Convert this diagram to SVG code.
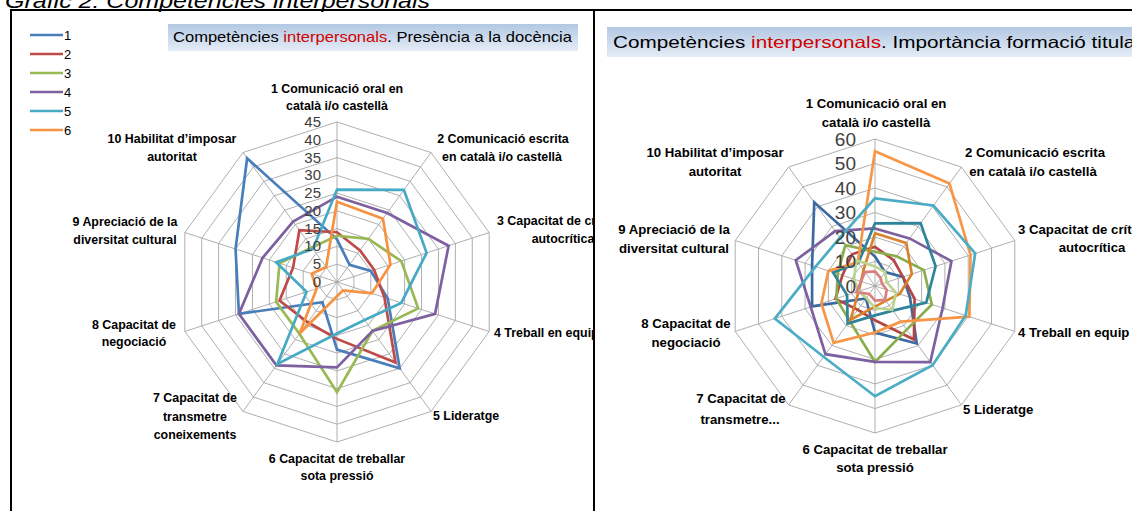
<svg xmlns="http://www.w3.org/2000/svg" xmlns:xlink="http://www.w3.org/1999/xlink" width="1132" height="511" viewBox="0 0 1132 511">
<style>
.t{font-family:"Liberation Sans",Arial,sans-serif;font-weight:bold;fill:#000}
.l{font-size:12.4px;text-anchor:middle}
.r{font-size:13.2px;text-anchor:middle}
.st{text-anchor:start}
.num{font-family:"Liberation Sans",Arial,sans-serif;fill:#404040;text-anchor:end}
.nl{font-size:15px}
.nr{font-size:19px}
.grid{fill:none;stroke:#a6a6a6;stroke-width:0.9}
.s{fill:none;stroke-width:2.7;stroke-linejoin:miter}
.ttl{font-family:"Liberation Sans",Arial,sans-serif;fill:#000}
.red{fill:#d00000}
</style>
<defs>
<polygon id="dec" vector-effect="non-scaling-stroke" points="0,-1 0.5878,-0.809 0.9511,-0.309 0.9511,0.309 0.5878,0.809 0,1 -0.5878,0.809 -0.9511,0.309 -0.9511,-0.309 -0.5878,-0.809"/>
<linearGradient id="tg" x1="0" y1="0" x2="0" y2="1">
<stop offset="0" stop-color="#b3c8e3"/>
<stop offset="1" stop-color="#e4ecf6"/>
</linearGradient>
<clipPath id="clipL"><rect x="11" y="11" width="582" height="500"/></clipPath>
</defs>
<rect width="1132" height="511" fill="#fff"/>
<text x="5" y="8" font-family="Liberation Sans, Arial, sans-serif" font-style="italic" font-size="20" textLength="425" lengthAdjust="spacingAndGlyphs">Gràfic 2: Competències interpersonals</text>
<g id="frame" fill="none" stroke="#000" stroke-width="2">
<line x1="10" y1="10" x2="1132" y2="10"/>
<line x1="11" y1="10" x2="11" y2="511"/>
<line x1="594" y1="10" x2="594" y2="511"/>
</g>

<g id="chartL" clip-path="url(#clipL)">
<g id="titleL">
<rect x="168" y="24" width="410" height="27" fill="url(#tg)"/>
<text class="ttl" x="173" y="42" font-size="15" textLength="399" lengthAdjust="spacingAndGlyphs">Competències <tspan class="red">interpersonals</tspan>. Presència a la docència</text>
</g>
<g id="legendL" stroke-width="2.6">
<line x1="30" y1="35" x2="63" y2="35" stroke="#4A7EBB"/>
<line x1="30" y1="54" x2="63" y2="54" stroke="#BE4B48"/>
<line x1="30" y1="73" x2="63" y2="73" stroke="#98B954"/>
<line x1="30" y1="92" x2="63" y2="92" stroke="#7D60A0"/>
<line x1="30" y1="111" x2="63" y2="111" stroke="#46AAC5"/>
<line x1="30" y1="130" x2="63" y2="130" stroke="#F69240"/>
<g font-family="Liberation Sans, Arial, sans-serif" font-size="13" fill="#000" stroke="none">
<text x="64" y="40">1</text><text x="64" y="59">2</text><text x="64" y="78">3</text><text x="64" y="97">4</text><text x="64" y="116">5</text><text x="64" y="135">6</text>
</g>
</g>
<g id="gridL" class="grid" transform="translate(337 282) scale(3.5556)">
<use href="#dec" transform="scale(5)"/><use href="#dec" transform="scale(10)"/><use href="#dec" transform="scale(15)"/>
<use href="#dec" transform="scale(20)"/><use href="#dec" transform="scale(25)"/><use href="#dec" transform="scale(30)"/>
<use href="#dec" transform="scale(35)"/><use href="#dec" transform="scale(40)"/><use href="#dec" transform="scale(45)"/>
<path vector-effect="non-scaling-stroke" d="M0,0L0,-45M0,0L26.45,-36.41M0,0L42.8,-13.91M0,0L42.8,13.91M0,0L26.45,36.41M0,0L0,45M0,0L-26.45,36.41M0,0L-42.8,13.91M0,0L-42.8,-13.91M0,0L-26.45,-36.41"/>
</g>
<g id="seriesL" transform="translate(337 282) scale(3.5556)">
<polygon class="s" vector-effect="non-scaling-stroke" stroke="#4A7EBB" points="0,-12 3.53,-4.85 9.51,-3.09 14.27,4.64 17.63,24.27 0,19 -4.11,5.66 -27.58,8.96 -28.53,-9.27 -25.28,-34.79"/>
<polygon class="s" vector-effect="non-scaling-stroke" stroke="#BE4B48" points="0,-14 6.47,-8.9 10.46,-3.4 13.32,4.33 16.46,22.65 0,16 -8.23,11.33 -16.17,5.25 -12.36,-4.02 -10.58,-14.56"/>
<polygon class="s" vector-effect="non-scaling-stroke" stroke="#98B954" points="0,-13 8.82,-12.14 18.07,-5.87 22.83,7.42 9.99,13.75 0,31 -10.58,14.56 -17.12,5.56 -16.17,-5.25 -7.05,-9.71"/>
<polygon class="s" vector-effect="non-scaling-stroke" stroke="#7D60A0" points="0,-24 14.11,-19.42 31.39,-10.2 27.58,8.96 9.99,13.75 0,24 -17.05,23.46 -27.58,8.96 -20.92,-6.8 -12.34,-16.99"/>
<polygon class="s" vector-effect="non-scaling-stroke" stroke="#46AAC5" points="0,-26 18.81,-25.89 25.2,-8.19 18.07,5.87 7.76,10.68 0,14.5 -16.75,23.06 -8.56,2.78 -17.12,-5.56 -6.76,-9.3"/>
<polygon class="s" vector-effect="non-scaling-stroke" stroke="#F69240" points="0,-22.6 12.93,-17.8 15.03,-4.88 9.8,3.18 1.7,2.35 0,4 -10.46,14.4 -5.71,1.85 -7.13,-2.32 -3.06,-4.21"/>
</g>
<g id="scaleL" class="num nl">
<text x="321" y="127">45</text><text x="321" y="145">40</text><text x="321" y="163">35</text><text x="321" y="180">30</text><text x="321" y="198">25</text>
<text x="321" y="216">20</text><text x="321" y="234">15</text><text x="321" y="251">10</text><text x="321" y="269">5</text><text x="321" y="287">0</text>
</g>
<g id="labelsL" class="t l">
<text x="337" y="93">1  Comunicació oral en</text><text x="337" y="110">català i/o castellà</text>
<text x="503" y="143">2  Comunicació escrita</text><text x="502" y="161">en català i/o castellà</text>
<text class="st" x="497" y="225">3  Capacitat de crítica i</text><text x="563" y="243">autocrítica</text>
<text class="st" x="494" y="337">4  Treball en equip</text>
<text class="st" x="433" y="420">5  Lideratge</text>
<text x="337" y="463">6  Capacitat de treballar</text><text x="337" y="480">sota pressió</text>
<text x="195" y="402">7  Capacitat de</text><text x="195" y="421">transmetre</text><text x="195" y="439">coneixements</text>
<text x="134" y="329">8  Capacitat de</text><text x="134" y="346">negociació</text>
<text x="125" y="226">9  Apreciació de la</text><text x="125" y="244">diversitat cultural</text>
<text x="172" y="143">10 Habilitat d’imposar</text><text x="172" y="161">autoritat</text>
</g>
</g>

<g id="chartR">
<g id="titleR">
<rect x="607" y="27" width="525" height="30" fill="url(#tg)"/>
<text class="ttl" x="613" y="48" font-size="16.5" textLength="528" lengthAdjust="spacingAndGlyphs">Competències <tspan class="red">interpersonals</tspan>. Importància formació titulat</text>
</g>
<g id="gridR" class="grid" transform="translate(875 286) scale(2.45)">
<use href="#dec" transform="scale(10)"/><use href="#dec" transform="scale(20)"/><use href="#dec" transform="scale(30)"/>
<use href="#dec" transform="scale(40)"/><use href="#dec" transform="scale(50)"/><use href="#dec" transform="scale(60)"/>
<path vector-effect="non-scaling-stroke" d="M0,0L0,-60M0,0L35.27,-48.54M0,0L57.07,-18.54M0,0L57.07,18.54M0,0L35.27,48.54M0,0L0,60M0,0L-35.27,48.54M0,0L-57.07,18.54M0,0L-57.07,-18.54M0,0L-35.27,-48.54"/>
</g>
<g id="seriesR" transform="translate(875 286) scale(2.45)">
<polygon class="s" vector-effect="non-scaling-stroke" stroke="#3C6AA0" points="0,-12 4.11,-5.66 11.41,-3.71 14.27,4.64 17.05,23.46 0,19 -3.7,5.1 -25.68,8.34 -25.68,-8.34 -24.8,-34.14"/>
<polygon class="s" vector-effect="non-scaling-stroke" stroke="#B54643" points="0,-16 7.64,-10.52 11.41,-3.71 16.17,5.25 15.87,21.84 0,14 -7.05,9.71 -16.17,5.25 -13.32,-4.33 -9.4,-12.94"/>
<polygon class="s" vector-effect="non-scaling-stroke" stroke="#8AAE4C" points="0,-14 8.82,-12.14 19.97,-6.49 23.21,7.54 12.93,17.8 0,31 -10.35,14.24 -15.79,5.13 -15.22,-4.94 -12.11,-16.67"/>
<polygon class="s" vector-effect="non-scaling-stroke" stroke="#7D60A0" points="0,-23.5 14.11,-19.42 31.2,-10.14 27.58,8.96 22.57,31.07 0,31 -20.22,27.83 -26.25,8.53 -32.34,-10.51 -16.28,-22.41"/>
<polygon class="s" vector-effect="non-scaling-stroke" stroke="#2F8499" points="0,-25.6 18.63,-25.65 24.73,-8.03 20.92,6.8 7.29,10.03 0,12 -11.17,15.37 -11.41,3.71 -17.12,-5.56 -6.82,-9.38"/>
<polygon class="s" vector-effect="non-scaling-stroke" stroke="#F79646" points="0,-55 30.39,-41.83 38.99,-12.67 38.52,12.51 10.58,14.56 0,19 -16.87,23.22 -21.88,7.11 -19.02,-6.18 -7.05,-9.71"/>
<polygon class="s" vector-effect="non-scaling-stroke" stroke="#4BACC6" points="0,-35.8 23.86,-32.85 40.9,-13.29 37,12.02 23.51,32.36 0,45 -20.98,28.88 -40.9,13.29 -24.25,-7.88 -14.34,-19.74"/>
<polygon class="s" vector-effect="non-scaling-stroke" stroke="#D9822E" points="0,-21.5 12.76,-17.56 15.03,-4.88 10.08,3.28 4.41,6.07 0,8.4 -9.99,13.75 -6.66,2.16 -5.71,-1.85 -4.7,-6.47"/>
<polygon class="s" vector-effect="non-scaling-stroke" stroke="#B9D48C" points="0,-8 4.11,-5.66 4.76,-1.55 8.56,2.78 7.05,9.71 0,9 -3.53,4.85 -6.66,2.16 -8.56,-2.78 -7.64,-10.52"/>
<polygon class="s" vector-effect="non-scaling-stroke" stroke="#D9807E" points="0,-6 2.35,-3.24 2.85,-0.93 4.76,1.55 4.11,5.66 0,6 -2.35,3.24 -7.61,2.47 -5.71,-1.85 -4.11,-5.66"/>
</g>
<g id="scaleR" class="num nr">
<text x="856" y="146">60</text><text x="856" y="170">50</text><text x="856" y="195">40</text><text x="856" y="219">30</text>
<text x="856" y="244">20</text><text x="856" y="268">10</text><text x="856" y="293">0</text>
</g>
<g id="labelsR" class="t r">
<text x="876" y="108">1  Comunicació oral en</text><text x="876" y="127">català i/o castellà</text>
<text x="1035" y="157">2  Comunicació escrita</text><text x="1033" y="176">en català i/o castellà</text>
<text class="st" x="1018" y="234">3  Capacitat de crítica i</text><text x="1092" y="252">autocrítica</text>
<text class="st" x="1018" y="337">4  Treball en equip</text>
<text class="st" x="963" y="414">5  Lideratge</text>
<text x="875" y="454">6  Capacitat de treballar</text><text x="875" y="472">sota pressió</text>
<text x="741" y="403">7  Capacitat de</text><text x="740" y="424">transmetre...</text>
<text x="686" y="328">8  Capacitat de</text><text x="686" y="347">negociació</text>
<text x="674" y="234">9  Apreciació de la</text><text x="674" y="253">diversitat cultural</text>
<text x="715" y="157">10 Habilitat d’imposar</text><text x="715" y="176">autoritat</text>
</g>
</g>
</svg>
